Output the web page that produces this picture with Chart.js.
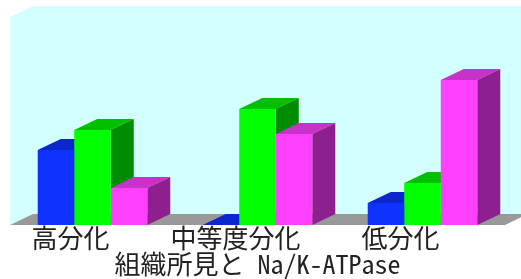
<!DOCTYPE html>
<html>
<head>
<meta charset="utf-8">
<script src="https://cdn.jsdelivr.net/npm/chart.js@4/dist/chart.umd.min.js"></script>
<style>
  html, body { margin:0; padding:0; background:#fff; }
  canvas { display:block; }
</style>
</head>
<body>
<canvas id="c" width="521" height="279"></canvas>
<script>
const CATEGORIES = ['高分化', '中等度分化', '低分化'];
const SERIES_BLUE = [36.1, 0, 10.6];
const SERIES_GREEN = [45.7, 55.8, 20.2];
const SERIES_MAGENTA = [17.8, 43.8, 69.7];
const AXIS_TITLE = '組織所見と Na/K-ATPase';

const FONT = '"Noto Sans Mono CJK JP", "Liberation Mono", "Noto Sans CJK JP", monospace';
const WALL = '#d4ffff';
const FLOOR = '#999999';
// front, top, side colours per series
const FACES = [
  ['#0f33ff', '#0a26cc', '#08208c'],
  ['#00ff00', '#00c000', '#008c00'],
  ['#ff40ff', '#c832c8', '#8e1f8e']
];
const DX = 23, DY = 11;

function poly(ctx, pts, color){
  ctx.fillStyle = color;
  ctx.beginPath();
  ctx.moveTo(pts[0][0], pts[0][1]);
  for (let k=1;k<pts.length;k++) ctx.lineTo(pts[k][0], pts[k][1]);
  ctx.closePath();
  ctx.fill();
}

// wall, floor and the top/side faces of the bars
const box3d = {
  id:'box3d',
  beforeDatasetsDraw(chart){
    const {ctx, chartArea:a} = chart;
    ctx.save();
    poly(ctx, [[a.left,a.bottom],[a.left,a.top],[a.left+DX,a.top-DY],[a.right+DX,a.top-DY],
               [a.right+DX,a.bottom-DY],[a.left+DX,a.bottom-DY]], WALL);
    poly(ctx, [[a.left,a.bottom],[a.right,a.bottom],[a.right+DX,a.bottom-DY],[a.left+DX,a.bottom-DY]], FLOOR);
    for (let i=0;i<CATEGORIES.length;i++){
      chart.data.datasets.forEach((ds,d)=>{
        const el = chart.getDatasetMeta(d).data[i];
        const p = el.getProps(['x','y','base','width'], true);
        const l = p.x - p.width/2, r = p.x + p.width/2;
        poly(ctx, [[l,p.y],[r,p.y],[r+DX,p.y-DY],[l+DX,p.y-DY]], FACES[d][1]);
        poly(ctx, [[r,p.y],[r+DX,p.y-DY],[r+DX,p.base-DY],[r,p.base]], FACES[d][2]);
      });
    }
    ctx.restore();
  }
};

new Chart(document.getElementById('c'), {
  type:'bar',
  data:{
    labels: CATEGORIES,
    datasets:[
      {data: SERIES_BLUE, backgroundColor: FACES[0][0]},
      {data: SERIES_GREEN, backgroundColor: FACES[1][0]},
      {data: SERIES_MAGENTA, backgroundColor: FACES[2][0]}
    ]
  },
  options:{
    responsive:false,
    animation:false,
    categoryPercentage:0.664,
    barPercentage:1,
    borderWidth:0,
    layout:{padding:{left:10, right:16, top:17, bottom:2}},
    plugins:{legend:{display:false}, tooltip:{enabled:false}},
    scales:{
      y:{display:false, min:0, max:100},
      x:{
        grid:{display:false, drawTicks:false},
        border:{display:false},
        ticks:{color:'#222', padding:0, labelOffset:-22, maxRotation:0, autoSkip:false,
               font:{size:26, family:FONT, lineHeight:1}},
        title:{display:true, text:AXIS_TITLE, color:'#222', padding:{top:0, bottom:0},
               font:{size:26, family:FONT, lineHeight:1}}
      }
    }
  },
  plugins:[box3d]
});
</script>
</body>
</html>
